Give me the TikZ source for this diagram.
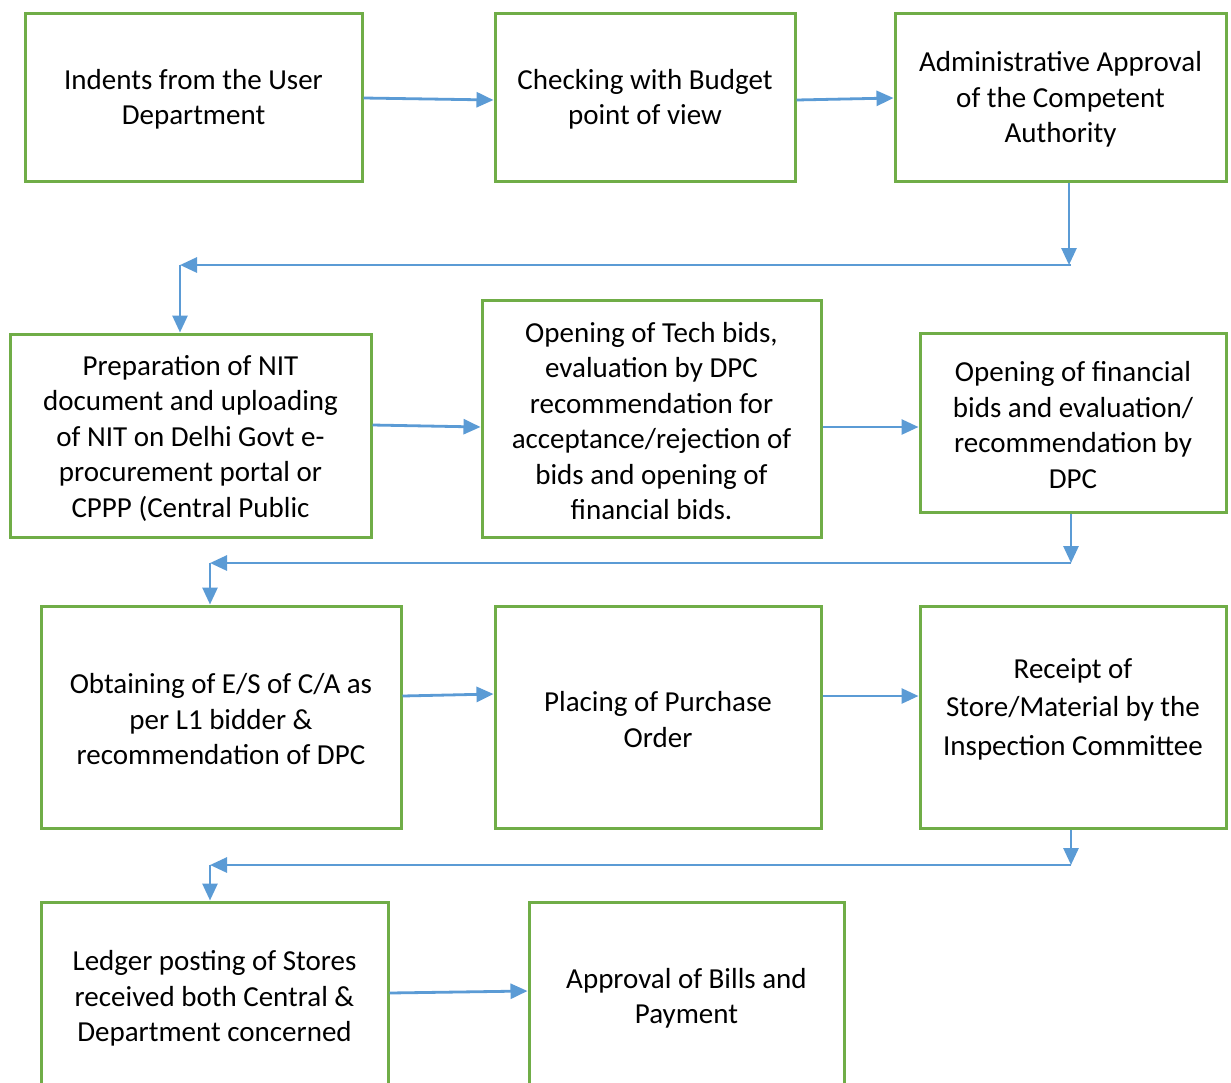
\documentclass[tikz,border=0pt]{standalone}
\usepackage{fontspec}
\setmainfont{Carlito}
\usetikzlibrary{arrows.meta}
\definecolor{boxgreen}{HTML}{70AD47}
\definecolor{arrowblue}{HTML}{5B9BD5}
\newcommand{\mkbox}[6]{%
  \node[box, minimum width=#4pt, minimum height=#5pt] (#1) at (#2,#3) {};
  \node[lbl] (#1t) at ([yshift=-2.5pt]#1.center) {#6};}
\begin{document}
\begin{tikzpicture}[x=1pt,y=-1pt,
  box/.style={draw=boxgreen, line width=3pt, inner sep=0pt},
  lbl/.style={align=center, inner sep=0pt, font=\fontsize{29}{35.5}\selectfont},
  conn/.style={draw=arrowblue, line width=2.8pt, -{Triangle[length=17pt,width=15pt]}}]
\useasboundingbox (0,0) rectangle (1231,1082);
\clip (0,0) rectangle (1231,1082);
\fill[white] (0,0) rectangle (1231,1082);

\mkbox{b1}{193.5}{97}{337}{168}{Indents from the User\\Department}
\mkbox{b2}{645}{97}{300}{168}{Checking with Budget\\point of view}
\mkbox{b3}{1060.5}{97}{331}{168}{Administrative Approval\\of the Competent\\Authority}

\mkbox{b4}{190.5}{435.5}{361}{203}{Preparation of NIT\\document and uploading\\of NIT on Delhi Govt e-\\procurement portal or\\CPPP (Central Public}
\mkbox{b5}{651.5}{418.5}{339}{237}{Opening of Tech bids,\\evaluation by DPC\\recommendation for\\acceptance/rejection of\\bids and opening of\\financial bids.}
\mkbox{b6}{1073}{422.5}{306}{179}{Opening of financial\\bids and evaluation/\\recommendation by\\DPC}

\mkbox{b7}{221}{717}{360}{222}{Obtaining of E/S of C/A as\\per L1 bidder \&\\recommendation of DPC}
\mkbox{b8}{658}{717}{326}{222}{Placing of Purchase\\Order}
\node[box, minimum width=306pt, minimum height=222pt] (b9) at (1073,717) {};
\node[lbl, font=\fontsize{29}{38.5}\selectfont] (b9t) at (1073,709) {Receipt of\\Store/Material by the\\Inspection Committee};

\mkbox{b10}{214.5}{996}{347}{188}{Ledger posting of Stores\\received both Central \&\\Department concerned}
\mkbox{b11}{686.5}{996}{315}{188}{Approval of Bills and\\Payment}

\coordinate (e1) at (1069,265);
\coordinate (e1l) at (180,265);
\coordinate (e2) at (1071,563);
\coordinate (e2l) at (210,563);
\coordinate (e3) at (1071,865);
\coordinate (e3l) at (210,865);

\draw[conn] (b1.east |- 0,98) -- (b2.west |- 0,100);
\draw[conn] (b2.east |- 0,100) -- (b3.west |- 0,98);
\draw[conn] (b3.south -| e1) -- (e1);
\draw[conn] ([xshift=2pt]e1) -- (e1l);
\draw[conn] (e1l) -- (b4.north -| e1l);

\draw[conn] (b4.east |- 0,425) -- (b5.west |- 0,427);
\draw[conn] (b5.east |- 0,427) -- (b6.west |- 0,427);
\draw[conn] (b6.south -| e2) -- (e2);
\draw[conn] (e2) -- (e2l);
\draw[conn] (e2l) -- (b7.north -| e2l);

\draw[conn] (b7.east |- 0,696) -- (b8.west |- 0,694);
\draw[conn] (b8.east |- 0,696) -- (b9.west |- 0,696);
\draw[conn] (b9.south -| e3) -- (e3);
\draw[conn] (e3) -- (e3l);
\draw[conn] (e3l) -- (b10.north -| e3l);

\draw[conn] (b10.east |- 0,993) -- (b11.west |- 0,991);
\end{tikzpicture}
\end{document}
